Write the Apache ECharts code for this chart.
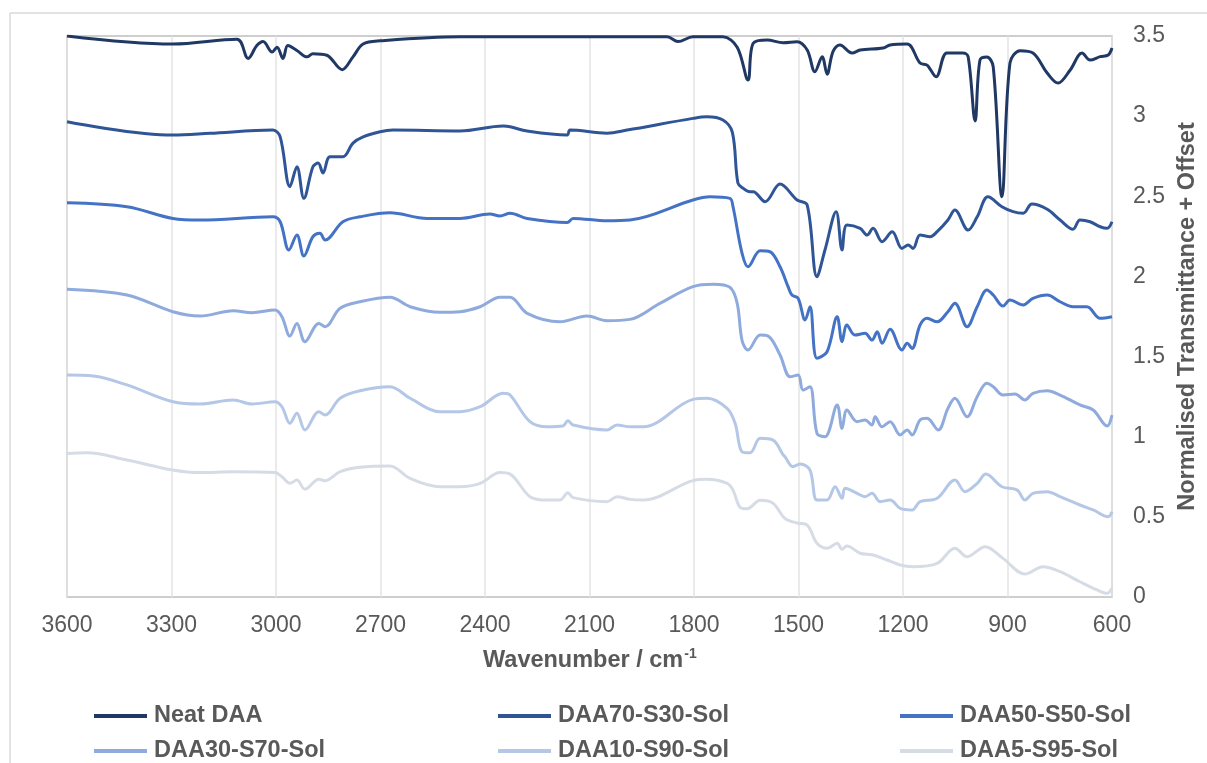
<!DOCTYPE html>
<html>
<head>
<meta charset="utf-8">
<script src="https://cdn.jsdelivr.net/npm/echarts@6/dist/echarts.min.js"></script>
<style>
html,body{margin:0;padding:0;background:#fff;overflow:hidden;}
#chart{width:1207px;height:763px;}
</style>
</head>
<body>
<div id="chart"></div>
<script>
// ---- Data (wavenumber in cm-1, normalised transmittance + offset) ----
const seriesNames = ['Neat DAA','DAA70-S30-Sol','DAA50-S50-Sol','DAA30-S70-Sol','DAA10-S90-Sol','DAA5-S95-Sol'];
const seriesColors = ['#203864','#2f5597','#4472c4','#8faadc','#b4c7e7','#d6dce5'];
const xTicks = [600,900,1200,1500,1800,2100,2400,2700,3000,3300,3600];
const yTicks = [0,0.5,1,1.5,2,2.5,3,3.5];

const neatWn = [3600,3296,3112,3080,3055,3037,3011,2997,2980,2966,2940,2911,2894,2854,2810,2779,2750,2701,2472,1877,1846,1803,1717,1676,1645,1630,1590,1544,1504,1475,1453,1432,1418,1401,1381,1346,1323,1257,1237,1188,1151,1131,1105,1074,1028,1013,993,979,959,941,916,893,864,827,786,755,720,686,663,634,611,600];
const neatT = [3.50,3.45,3.48,3.36,3.44,3.465,3.40,3.43,3.36,3.44,3.41,3.37,3.39,3.38,3.29,3.37,3.45,3.47,3.495,3.495,3.465,3.495,3.495,3.43,3.225,3.455,3.475,3.458,3.464,3.412,3.277,3.371,3.262,3.402,3.444,3.394,3.412,3.425,3.444,3.45,3.331,3.318,3.246,3.394,3.394,3.371,2.97,3.35,3.369,3.308,2.497,3.331,3.408,3.394,3.269,3.206,3.288,3.394,3.35,3.371,3.381,3.425];

const d70Wn = [3600,3296,3189,3009,2988,2960,2940,2920,2894,2879,2865,2845,2808,2779,2750,2701,2664,2472,2348,2328,2279,2164,2156,2050,1992,1803,1763,1717,1690,1674,1659,1639,1630,1596,1553,1504,1475,1447,1424,1392,1375,1361,1323,1303,1286,1260,1231,1203,1185,1171,1151,1122,1102,1071,1051,1013,987,956,916,884,855,830,786,749,712,692,663,634,614,600];
const d70T = [2.965,2.882,2.893,2.913,2.871,2.56,2.684,2.487,2.684,2.707,2.645,2.747,2.747,2.832,2.871,2.903,2.913,2.907,2.938,2.934,2.907,2.882,2.913,2.894,2.913,2.986,2.996,2.976,2.90,2.583,2.55,2.528,2.528,2.466,2.576,2.477,2.445,1.998,2.165,2.404,2.165,2.321,2.30,2.258,2.30,2.217,2.279,2.175,2.196,2.175,2.258,2.248,2.279,2.352,2.414,2.289,2.372,2.497,2.435,2.404,2.394,2.452,2.419,2.352,2.294,2.352,2.341,2.31,2.30,2.341];

const d50Wn = [3600,3428,3296,3218,3009,2988,2963,2940,2920,2894,2874,2859,2808,2759,2673,2566,2472,2386,2357,2328,2279,2164,2147,2050,1984,1803,1754,1697,1688,1662,1645,1610,1582,1553,1530,1519,1501,1481,1467,1447,1418,1389,1375,1361,1338,1309,1289,1274,1260,1237,1203,1188,1174,1151,1131,1102,1071,1051,1016,987,959,941,913,893,855,827,786,749,712,672,634,600];
const d50T = [2.46,2.435,2.362,2.352,2.372,2.341,2.165,2.258,2.127,2.248,2.269,2.227,2.341,2.372,2.397,2.362,2.362,2.389,2.377,2.394,2.362,2.337,2.362,2.347,2.352,2.477,2.497,2.487,2.435,2.144,2.06,2.16,2.154,2.06,1.936,1.884,1.863,1.728,1.811,1.489,1.53,1.749,1.593,1.697,1.634,1.645,1.603,1.655,1.583,1.67,1.541,1.583,1.551,1.697,1.739,1.717,1.78,1.832,1.686,1.811,1.915,1.884,1.815,1.853,1.822,1.863,1.884,1.842,1.811,1.811,1.739,1.749];

const d30Wn = [3600,3428,3296,3218,3123,3069,3003,2983,2960,2940,2917,2877,2859,2816,2759,2673,2615,2529,2472,2414,2357,2328,2279,2185,2107,2050,1984,1898,1803,1745,1697,1676,1662,1645,1610,1587,1553,1524,1501,1487,1467,1447,1424,1389,1375,1361,1332,1309,1289,1280,1260,1237,1208,1188,1174,1151,1131,1099,1071,1051,1016,987,959,941,913,878,850,827,786,749,692,654,614,600];
const d30T = [1.92,1.884,1.78,1.753,1.786,1.774,1.79,1.749,1.628,1.707,1.593,1.707,1.686,1.801,1.842,1.87,1.811,1.776,1.78,1.811,1.87,1.87,1.77,1.717,1.753,1.724,1.732,1.832,1.936,1.951,1.932,1.832,1.60,1.541,1.634,1.628,1.51,1.374,1.385,1.291,1.312,1.021,1.0,1.198,1.052,1.167,1.094,1.104,1.073,1.125,1.062,1.094,1.011,1.042,1.011,1.104,1.115,1.042,1.177,1.24,1.125,1.25,1.333,1.312,1.26,1.266,1.229,1.271,1.287,1.26,1.198,1.167,1.067,1.135];

const d10Wn = [3600,3525,3428,3296,3218,3123,3069,3003,2983,2960,2940,2917,2877,2859,2816,2759,2673,2615,2529,2472,2414,2348,2328,2271,2222,2176,2162,2147,2050,2021,1984,1946,1803,1763,1705,1682,1662,1639,1610,1573,1544,1539,1516,1495,1467,1447,1418,1395,1375,1366,1332,1309,1289,1266,1237,1208,1174,1151,1102,1051,1022,987,962,916,872,850,827,786,749,692,654,611,600];
const d10T = [1.385,1.379,1.323,1.218,1.204,1.229,1.204,1.218,1.187,1.084,1.146,1.042,1.156,1.135,1.24,1.287,1.312,1.24,1.156,1.156,1.187,1.271,1.26,1.094,1.062,1.067,1.10,1.073,1.042,1.073,1.062,1.062,1.233,1.24,1.177,1.084,0.906,0.90,0.99,0.979,0.886,0.875,0.813,0.83,0.792,0.605,0.605,0.688,0.616,0.678,0.647,0.626,0.647,0.595,0.605,0.553,0.543,0.595,0.616,0.73,0.657,0.709,0.767,0.688,0.667,0.605,0.647,0.657,0.626,0.574,0.543,0.501,0.532];

const d5Wn = [3600,3543,3428,3296,3218,3123,3003,2983,2960,2940,2917,2877,2859,2816,2759,2673,2615,2529,2472,2414,2357,2328,2271,2222,2185,2162,2147,2050,2021,1984,1946,1803,1763,1705,1688,1668,1648,1610,1573,1539,1504,1475,1447,1418,1389,1375,1361,1323,1286,1246,1208,1171,1102,1051,1016,964,913,850,798,749,692,643,614,600];
const d5T = [0.896,0.90,0.855,0.792,0.776,0.782,0.776,0.75,0.709,0.73,0.672,0.734,0.726,0.782,0.809,0.817,0.74,0.688,0.688,0.709,0.776,0.767,0.626,0.605,0.605,0.651,0.62,0.595,0.626,0.609,0.605,0.726,0.734,0.709,0.667,0.56,0.55,0.603,0.584,0.491,0.462,0.449,0.335,0.304,0.335,0.298,0.318,0.273,0.262,0.231,0.20,0.189,0.21,0.304,0.251,0.314,0.241,0.143,0.189,0.158,0.095,0.044,0.023,0.054];

const allWn = [neatWn, d70Wn, d50Wn, d30Wn, d10Wn, d5Wn];
const allT = [neatT, d70T, d50T, d30T, d10T, d5T];

// ---- Chart ----
const chart = echarts.init(document.getElementById('chart'));
const font = 'Liberation Sans, Arial, sans-serif';
const textCol = '#595959';

const series = seriesNames.map((name, i) => ({
  name: name,
  type: 'line',
  data: allWn[i].map((w, k) => [w, allT[i][k]]),
  showSymbol: false,
  symbol: 'none',
  smooth: 0.35,
  lineStyle: { color: seriesColors[i], width: 3 },
  itemStyle: { color: seriesColors[i] },
  z: 10 - i
}));

const legendPos = [
  { left: 94, top: 704 }, { left: 498, top: 704 }, { left: 900, top: 704 },
  { left: 94, top: 739 }, { left: 498, top: 739 }, { left: 900, top: 739 }
];
const legends = seriesNames.map((name, i) => ({
  data: [name],
  left: legendPos[i].left,
  top: legendPos[i].top,
  padding: 0,
  icon: 'rect',
  itemWidth: 53,
  itemHeight: 4,
  selectedMode: false,
  textStyle: { fontFamily: font, fontSize: 23.5, fontWeight: 'bold', color: textCol, padding: [0, 0, 0, 2] }
}));

chart.setOption({
  animation: false,
  backgroundColor: '#fff',
  grid: {
    left: 67, right: 95, top: 36, bottom: 166,
    outerBoundsMode: 'none',
    containLabel: false,
    show: true, borderColor: '#bfbfbf', borderWidth: 1.5, backgroundColor: 'transparent'
  },
  legend: legends,
  xAxis: {
    type: 'value',
    inverse: true,
    min: xTicks[0],
    max: xTicks[xTicks.length - 1],
    interval: 300,
    axisLine: { show: false },
    axisTick: { show: false },
    splitLine: { show: true, lineStyle: { color: '#e3e3e3', width: 1.5 } },
    axisLabel: { fontFamily: font, fontSize: 23, color: textCol, margin: 17, formatter: v => String(v) }
  },
  yAxis: {
    type: 'value',
    position: 'right',
    min: yTicks[0],
    max: yTicks[yTicks.length - 1],
    interval: 0.5,
    axisLine: { show: false },
    axisTick: { show: false },
    splitLine: { show: false },
    axisLabel: { fontFamily: font, fontSize: 23, color: textCol, margin: 21, formatter: v => String(v) },
    name: 'Normalised Transmittance + Offset',
    nameLocation: 'middle',
    nameRotate: 90,
    nameGap: 64,
    nameTextStyle: { fontFamily: font, fontSize: 23.5, fontWeight: 'bold', color: textCol }
  },
  graphic: [
    { type: 'line', shape: { x1: 10, y1: 13, x2: 1207, y2: 13 }, style: { stroke: '#d9d9d9', lineWidth: 1.5 }, silent: true },
    { type: 'line', shape: { x1: 10, y1: 13, x2: 10, y2: 763 }, style: { stroke: '#d9d9d9', lineWidth: 1.5 }, silent: true },
    {
      type: 'text', left: 483, top: 647, silent: true,
      style: {
        text: '{a|Wavenumber / cm}{b|-1}',
        rich: {
          a: { fontFamily: font, fontSize: 23.5, fontWeight: 'bold', fill: textCol, lineHeight: 28 },
          b: { fontFamily: font, fontSize: 14, fontWeight: 'bold', fill: textCol, lineHeight: 28, verticalAlign: 'top', padding: [0, 0, 11, 1] }
        }
      }
    }
  ],
  series: series
});
</script>
</body>
</html>
